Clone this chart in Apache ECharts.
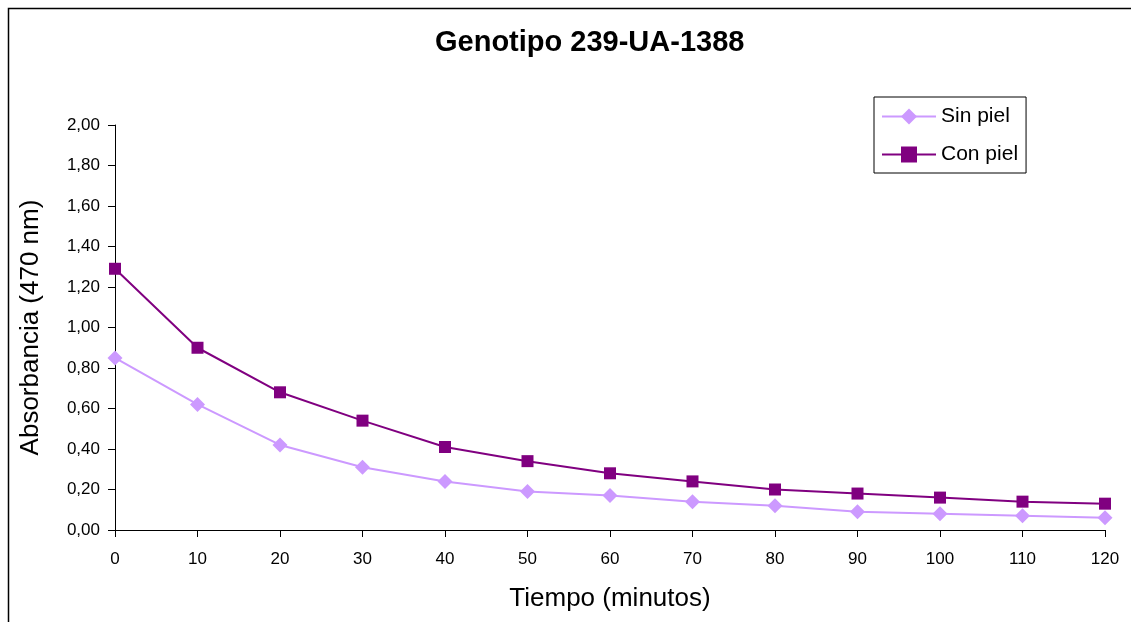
<!DOCTYPE html>
<html><head><meta charset="utf-8">
<script src="https://cdn.jsdelivr.net/npm/echarts@6/dist/echarts.min.js"></script>
<style>html,body{margin:0;padding:0;background:#fff}#c{width:1131px;height:622px}</style>
</head><body><div id="c"></div>
<script>
const categories = ['0','10','20','30','40','50','60','70','80','90','100','110','120'];
const sinPiel = [0.85,0.62,0.42,0.31,0.24,0.19,0.17,0.14,0.12,0.09,0.08,0.07,0.06];
const conPiel = [1.29,0.90,0.68,0.54,0.41,0.34,0.28,0.24,0.20,0.18,0.16,0.14,0.13];
const yTicks = [0,0.2,0.4,0.6,0.8,1.0,1.2,1.4,1.6,1.8,2.0];

const font = 'Liberation Sans, Arial, sans-serif';
const chart = echarts.init(document.getElementById('c'));
chart.setOption({
  backgroundColor:'#fff',
  animation:false,
  title:{text:'Genotipo 239-UA-1388',left:435,top:28,padding:0,
    textStyle:{fontFamily:font,fontSize:29,fontWeight:'bold',color:'#000'}},
  graphic:[{type:'rect',shape:{x:8.5,y:8.5,width:1200,height:700},
    style:{fill:'none',stroke:'#000',lineWidth:1.5},silent:true}],
  legend:{orient:'vertical',left:874,top:97,
    borderColor:'#000',borderWidth:1,padding:[9,8,8,7],itemGap:17,
    itemWidth:54,itemHeight:20,
    textStyle:{fontFamily:font,fontSize:21,color:'#000'},
    data:['Sin piel','Con piel']},
  grid:{left:115,right:26,top:125,bottom:92,containLabel:false},
  xAxis:{type:'category',data:categories,boundaryGap:false,
    name:'Tiempo (minutos)',nameLocation:'middle',nameGap:56,
    nameTextStyle:{fontFamily:font,fontSize:26,color:'#000'},
    axisLine:{lineStyle:{color:'#000',width:1}},
    axisTick:{show:true,length:7,lineStyle:{color:'#000'}},
    axisLabel:{fontFamily:font,fontSize:17,color:'#000',margin:21},
    splitLine:{show:false}},
  yAxis:{type:'value',min:0,max:2,interval:0.2,
    name:'Absorbancia (470 nm)',nameLocation:'middle',nameGap:71,
    nameTextStyle:{fontFamily:font,fontSize:26,color:'#000'},
    axisLine:{show:true,lineStyle:{color:'#000',width:1}},
    axisTick:{show:true,length:7,lineStyle:{color:'#000'}},
    axisLabel:{fontFamily:font,fontSize:17,color:'#000',margin:15,
      formatter:v=>{const t=yTicks.find(x=>Math.abs(x-v)<1e-6);return (t!==undefined?t:v).toFixed(2).replace('.',',');}},
    splitLine:{show:false}},
  series:[
    {name:'Sin piel',type:'line',data:sinPiel,symbol:'diamond',symbolSize:15,
      lineStyle:{color:'#cc99ff',width:2},itemStyle:{color:'#cc99ff'}},
    {name:'Con piel',type:'line',data:conPiel,symbol:'rect',symbolSize:12,
      lineStyle:{color:'#800080',width:2},itemStyle:{color:'#800080'}}
  ]
});
</script></body></html>
